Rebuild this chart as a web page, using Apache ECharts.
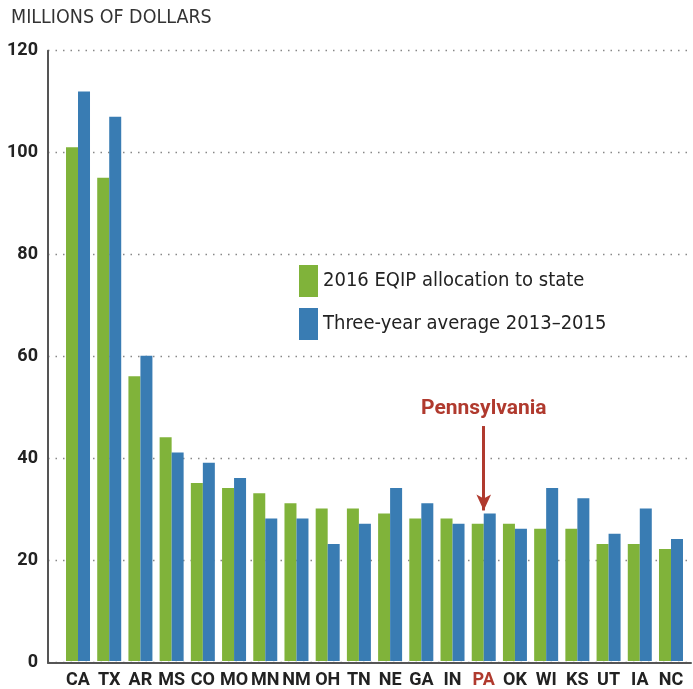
<!DOCTYPE html>
<html>
<head>
<meta charset="utf-8">
<script src="https://cdn.jsdelivr.net/npm/echarts@6/dist/echarts.min.js"></script>
<style>
html,body{margin:0;padding:0;background:#fff;}
#chart{width:693px;height:689px;}
</style>
</head>
<body>
<div id="chart"></div>
<script>
const categories = ['CA','TX','AR','MS','CO','MO','MN','NM','OH','TN','NE','GA','IN','PA','OK','WI','KS','UT','IA','NC'];
const allocation2016 = [101,95,56,44,35,34,33,31,30,30,29,28,28,27,27,26,26,23,23,22];
const average2013_2015 = [112,107,60,41,39,36,28,28,23,27,34,31,27,29,26,34,32,25,30,24];
const yTicks = [0,20,40,60,80,100,120];
const highlightState = 'PA';
const arrowRange = [46.2, 29.6];
const highlightLabelValue = 49.6;

const GREEN = '#80b33a';
const BLUE = '#397cb3';
const RED = '#b03a2e';
const LABEL_FONT = 'Roboto, "DejaVu Sans Condensed", sans-serif';
const TEXT_FONT = '"DejaVu Sans Condensed", "Noto Sans", sans-serif';

const chart = echarts.init(document.getElementById('chart'), null, {renderer:'canvas'});

const gridTop = 50.7, gridBottom = 26.3;

const option = {
  animation: false,
  backgroundColor: '#fff',
  title: {
    text: 'MILLIONS OF DOLLARS',
    left: 11, top: 8, padding: 0,
    textStyle: {fontFamily: TEXT_FONT, fontWeight: 'normal', fontSize: 19.5, color: '#333'}
  },
  legend: {
    orient: 'vertical',
    left: 299, top: 265, padding: 0,
    itemWidth: 19, itemHeight: 32, itemGap: 11,
    icon: 'rect',
    selectedMode: false,
    textStyle: {fontFamily: TEXT_FONT, fontSize: 20, color: '#222'},
    data: ['2016 EQIP allocation to state', 'Three-year average 2013–2015']
  },
  grid: [
    {left: 62.4, right: 6.4, top: gridTop, bottom: gridBottom},
    {left: 48, right: 2, top: gridTop, bottom: gridBottom}
  ],
  xAxis: [
    {
      type: 'category', gridIndex: 0,
      data: categories.map(c => c === highlightState ? {value: c, textStyle: {color: RED}} : c),
      axisLine: {show: false}, axisTick: {show: false},
      axisLabel: {fontFamily: LABEL_FONT, fontWeight: 'bold', fontSize: 18, color: '#222', margin: 10, interval: 0}
    },
    {
      type: 'value', gridIndex: 1, min: 0, max: 1,
      axisLine: {show: true, lineStyle: {color: '#555', width: 2}},
      axisTick: {show: false}, axisLabel: {show: false}, splitLine: {show: false}
    }
  ],
  yAxis: [
    {
      type: 'value', gridIndex: 0, min: 0, max: 120, interval: 20,
      axisLine: {show: false}, axisTick: {show: false}, axisLabel: {show: false}, splitLine: {show: false}
    },
    {
      type: 'value', gridIndex: 1, min: yTicks[0], max: yTicks[yTicks.length-1], interval: 20,
      axisLine: {show: true, lineStyle: {color: '#555', width: 2}},
      axisTick: {show: false},
      axisLabel: {fontFamily: LABEL_FONT, fontWeight: 'bold', fontSize: 18, color: '#222', margin: 10},
      splitLine: {show: true, lineStyle: {color: '#888', width: 1.3, type: [1.5, 6]}}
    }
  ],
  series: [
    {
      name: '2016 EQIP allocation to state',
      type: 'bar', xAxisIndex: 0, yAxisIndex: 0,
      data: allocation2016,
      barWidth: 12, barGap: '0%',
      itemStyle: {color: GREEN}
    },
    {
      name: 'Three-year average 2013–2015',
      type: 'bar', xAxisIndex: 0, yAxisIndex: 0,
      data: average2013_2015,
      barWidth: 12, barGap: '0%',
      itemStyle: {color: BLUE}
    },
    {
      name: 'annotation',
      type: 'line', xAxisIndex: 0, yAxisIndex: 0,
      data: [],
      silent: true,
      markLine: {
        silent: true,
        symbol: ['none', 'arrow'],
        symbolSize: [11, 16],
        lineStyle: {color: RED, width: 3, type: 'solid'},
        label: {show: false},
        data: [[{coord: [highlightState, arrowRange[0]]}, {coord: [highlightState, arrowRange[1]]}]]
      },
      markPoint: {
        silent: true,
        symbol: 'rect', symbolSize: 1,
        itemStyle: {color: 'rgba(0,0,0,0)'},
        label: {
          show: true, position: 'inside',
          formatter: 'Pennsylvania',
          fontFamily: LABEL_FONT, fontWeight: 'bold', fontSize: 21, color: RED
        },
        data: [{coord: [highlightState, highlightLabelValue]}]
      }
    }
  ]
};
chart.setOption(option);
</script>
</body>
</html>
